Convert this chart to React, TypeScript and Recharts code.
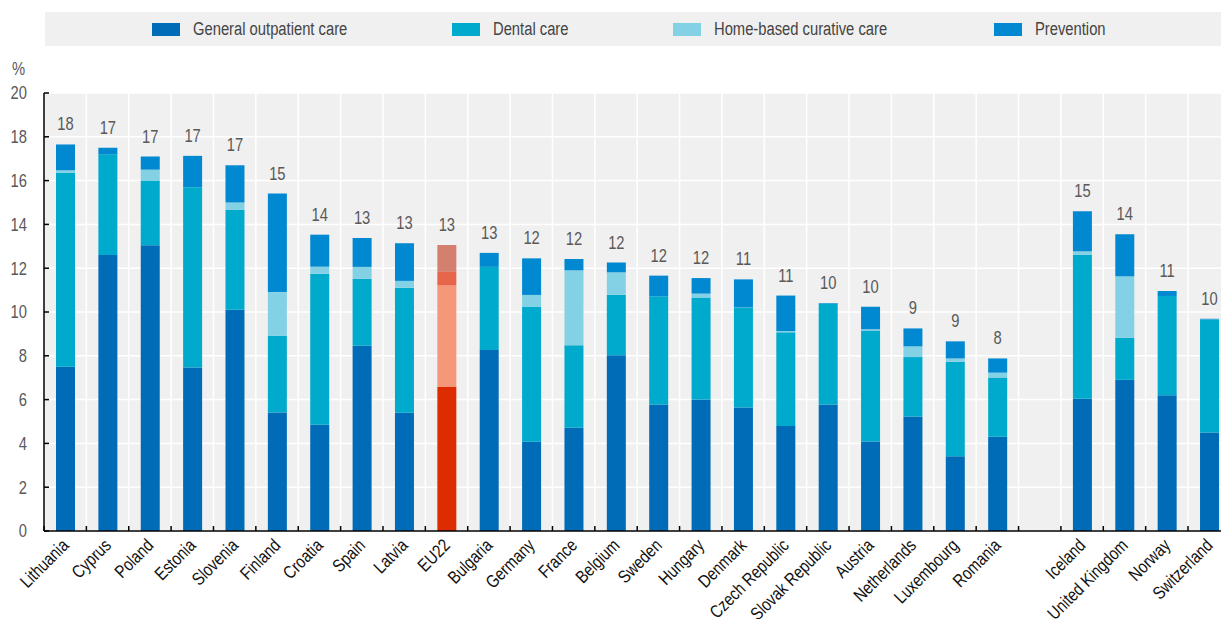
import React from "react";
import {
  BarChart,
  Bar,
  XAxis,
  YAxis,
  CartesianGrid,
  Cell,
  LabelList,
} from "recharts";

// Arial Narrow look: Liberation Sans squeezed horizontally
const FONT = "'Liberation Sans', Arial, sans-serif";
const NARROW = 0.82;

const countries = [
  "Lithuania", "Cyprus", "Poland", "Estonia", "Slovenia", "Finland", "Croatia", "Spain", "Latvia",
  "EU22", "Bulgaria", "Germany", "France", "Belgium", "Sweden", "Hungary", "Denmark",
  "Czech Republic", "Slovak Republic", "Austria", "Netherlands", "Luxembourg", "Romania",
  "", "Iceland", "United Kingdom", "Norway", "Switzerland",
];

const general = [
  7.5, 12.6, 13.05, 7.47, 10.1, 5.41, 4.85, 8.46, 5.4,
  6.57, 8.26, 4.07, 4.71, 8.02, 5.78, 6.0, 5.64,
  4.8, 5.78, 4.09, 5.23, 3.41, 4.3,
  null, 6.04, 6.9, 6.2, 4.5,
];

const dental = [
  8.85, 4.6, 2.95, 8.23, 4.56, 3.5, 6.9, 3.05, 5.71,
  4.66, 3.8, 6.16, 3.77, 2.76, 4.94, 4.66, 4.57,
  4.27, 4.6, 5.06, 2.71, 4.32, 2.71,
  null, 6.57, 1.93, 4.53, 5.16,
];

const homeBased = [
  0.12, 0, 0.5, 0, 0.34, 2.0, 0.32, 0.55, 0.31,
  0.6, 0, 0.55, 3.42, 1.03, 0, 0.18, 0,
  0.06, 0, 0.06, 0.49, 0.15, 0.22,
  null, 0.16, 2.8, 0, 0,
];

const prevention = [
  1.18, 0.3, 0.6, 1.43, 1.7, 4.5, 1.46, 1.32, 1.72,
  1.23, 0.64, 1.67, 0.52, 0.45, 0.94, 0.71, 1.28,
  1.62, 0.03, 1.03, 0.82, 0.78, 0.65,
  null, 1.83, 1.92, 0.23, 0.03,
];

const totalLabels = [
  "18", "17", "17", "17", "17", "15", "14", "13", "13",
  "13", "13", "12", "12", "12", "12", "12", "11",
  "11", "10", "10", "9", "9", "8",
  "", "15", "14", "11", "10",
];

const yTicks = [0, 2, 4, 6, 8, 10, 12, 14, 16, 18, 20];

const series = [
  { key: "general", name: "General outpatient care", color: "#006BB6", eu: "#DD2C00", legendX: 152 },
  { key: "dental", name: "Dental care", color: "#00AACC", eu: "#F5987A", legendX: 452 },
  { key: "home", name: "Home-based curative care", color: "#83D1E4", eu: "#E6654B", legendX: 673 },
  { key: "prevention", name: "Prevention", color: "#0088D1", eu: "#D5806F", legendX: 994 },
];

const data = countries.map((c, i) => ({
  country: c,
  general: general[i],
  dental: dental[i],
  home: homeBased[i],
  prevention: prevention[i],
  label: totalLabels[i],
}));

const XTick = (props: any) => {
  const { x, y, payload } = props;
  const half = payload.offset ?? 21.2;
  const tx = x - 5;
  const ty = y + 6;
  return (
    <g>
      <line x1={x - half} x2={x - half} y1={y} y2={y - 5} stroke="#000" strokeWidth={1.5} />
      {payload.value ? (
        <text
          transform={`translate(${tx}, ${ty}) rotate(-45) scale(${NARROW}, 1)`}
          textAnchor="end"
          dy="0.75em"
          fill="#111"
          fontSize={18}
          fontFamily={FONT}
        >
          {payload.value}
        </text>
      ) : null}
    </g>
  );
};

const YTick = (props: any) => {
  const { x, y, payload } = props;
  return (
    <text
      transform={`translate(${x}, ${y}) scale(${NARROW}, 1)`}
      textAnchor="end"
      dy="0.35em"
      fill="#595959"
      fontSize={18}
      fontFamily={FONT}
    >
      {payload.value}
    </text>
  );
};

const TopLabel = (props: any) => {
  const { x, y, width, value } = props;
  if (!value) return null;
  return (
    <text
      transform={`translate(${x + width / 2}, ${y - 14}) scale(${NARROW}, 1)`}
      textAnchor="middle"
      fill="#595959"
      fontSize={18}
      fontFamily={FONT}
    >
      {value}
    </text>
  );
};

export default function App() {
  return (
    <div
      style={{
        position: "absolute",
        left: 0,
        top: 0,
        width: 1221,
        height: 619,
        overflow: "hidden",
        background: "#fff",
        fontFamily: FONT,
      }}
    >
      <div
        style={{
          position: "absolute",
          left: 45,
          top: 12,
          width: 1176,
          height: 34,
          background: "#F0F0F0",
        }}
      >
        {series.map((s) => (
          <div
            key={s.key}
            style={{
              position: "absolute",
              left: s.legendX - 45,
              top: 0,
              height: 34,
              display: "flex",
              alignItems: "center",
              whiteSpace: "nowrap",
            }}
          >
            <span
              style={{ display: "inline-block", width: 28, height: 13, background: s.color, marginRight: 13 }}
            />
            <span
              style={{
                display: "inline-block",
                fontSize: 18,
                color: "#444",
                transform: `scaleX(${NARROW})`,
                transformOrigin: "left center",
              }}
            >
              {s.name}
            </span>
          </div>
        ))}
      </div>
      <div
        style={{
          position: "absolute",
          left: 12,
          top: 59,
          fontSize: 18,
          color: "#595959",
          transform: `scaleX(${NARROW})`,
          transformOrigin: "left center",
        }}
      >
        %
      </div>
      <BarChart
        width={1240}
        height={619}
        data={data}
        margin={{ top: 93, right: 9.6, left: 0, bottom: 0 }}
        barSize={19}
      >
        <CartesianGrid
          fill="#F0F0F0"
          stroke="#FFFFFF"
          strokeWidth={1.5}
          verticalCoordinatesGenerator={({ offset }: any) =>
            countries.map((_, i) => offset.left + (i * offset.width) / countries.length)
          }
        />
        <XAxis
          dataKey="country"
          interval={0}
          height={88}
          tickSize={0}
          tickMargin={0}
          tickLine={false}
          tick={<XTick />}
          axisLine={{ stroke: "#000", strokeWidth: 1.5 }}
        />
        <YAxis
          domain={[0, 20]}
          ticks={yTicks}
          width={44}
          interval={0}
          tickSize={-5}
          tickMargin={22}
          tickLine={{ stroke: "#000", strokeWidth: 1.5 }}
          axisLine={{ stroke: "#000", strokeWidth: 1.5 }}
          tick={<YTick />}
        />
        {series.map((s, si) => (
          <Bar
            key={s.key}
            dataKey={s.key}
            name={s.name}
            stackId="a"
            fill={s.color}
            isAnimationActive={false}
          >
            {data.map((d) => (
              <Cell key={d.country} fill={d.country === "EU22" ? s.eu : s.color} />
            ))}
            {si === series.length - 1 ? (
              <LabelList dataKey="label" content={<TopLabel />} />
            ) : null}
          </Bar>
        ))}
      </BarChart>
    </div>
  );
}
